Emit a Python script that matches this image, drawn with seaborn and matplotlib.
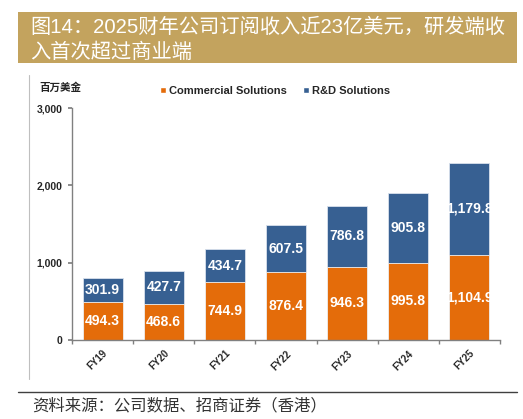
import matplotlib
matplotlib.use("Agg")
import matplotlib.pyplot as plt
import seaborn as sns
import pandas as pd
import numpy as np
from matplotlib.patches import Rectangle
from matplotlib.lines import Line2D

years = ["FY19", "FY20", "FY21", "FY22", "FY23", "FY24", "FY25"]
commercial = [494.3, 468.6, 744.9, 876.4, 946.3, 995.8, 1104.9]
rd = [301.9, 427.7, 434.7, 607.5, 786.8, 905.8, 1179.8]
series_names = ["Commercial Solutions", "R&D Solutions"]
yticks = [0, 1000, 2000, 3000]

title_lines = ["图14：2025财年公司订阅收入近23亿美元，研发端收", "入首次超过商业端"]
unit_label = "百万美金"
source_text = "资料来源：公司数据、招商证券（香港）"

C_OR = "#E46C0A"
C_BL = "#376092"
GOLD = "#C3A35E"

sns.set_theme(style="white")
plt.rcParams['font.family'] = ['Liberation Sans', 'Noto Sans CJK SC', 'DejaVu Sans']

W, H = 523, 419
fig = plt.figure(figsize=(W / 100, H / 100), dpi=100)

def fx(px):
    return px / W

def fy(py):
    return 1 - py / H

CJK = ['Noto Sans CJK SC', 'DejaVu Sans']
MIX = ['Liberation Sans', 'Noto Sans CJK SC', 'DejaVu Sans']

# Title box
fig.patches.append(Rectangle((fx(18), fy(63)), fx(517) - fx(18), fy(12) - fy(63),
                             transform=fig.transFigure, facecolor=GOLD, edgecolor='none'))
fig.text(fx(30), fy(27), title_lines[0], color='white', fontsize=14.6,
         family=MIX, va='center', ha='left')
fig.text(fx(30), fy(52), title_lines[1], color='white', fontsize=14.6,
         family=MIX, va='center', ha='left')

# left vertical decoration line
fig.lines.append(Line2D([fx(28.5), fx(28.5)], [fy(75), fy(379)], transform=fig.transFigure,
                        color='#BFBFBF', lw=0.8))
# bottom line
fig.lines.append(Line2D([fx(18), fx(517)], [fy(392), fy(392)], transform=fig.transFigure,
                        color='#404040', lw=1.0))
fig.text(fx(32), fy(406), source_text, color='#333333', fontsize=11.8,
         family=CJK, style='italic', va='center', ha='left')

ax = fig.add_axes([fx(72), fy(340), fx(500) - fx(72), fy(108) - fy(340)])

df = pd.DataFrame({"year": years, "commercial": commercial, "rd": rd})
df["total"] = df["commercial"] + df["rd"]

sns.barplot(data=df, x="year", y="total", color=C_BL, saturation=1, width=0.655,
            edgecolor='#D9E1EC', linewidth=0.6, ax=ax)
sns.barplot(data=df, x="year", y="commercial", color=C_OR, saturation=1, width=0.655,
            edgecolor='#F2F2F2', linewidth=0.6, ax=ax)

for i, (c, r) in enumerate(zip(commercial, rd)):
    ax.text(i, c / 2, f"{c:,.1f}", ha='center', va='center', color='white',
            fontsize=10, fontweight='bold')
    ax.text(i, c + r / 2, f"{r:,.1f}", ha='center', va='center', color='white',
            fontsize=10, fontweight='bold')

ax.set_ylim(0, 3000)
ax.set_xlim(-0.5, len(years) - 0.5)
ax.set_yticks(yticks)
ax.set_yticklabels([f"{v:,}" for v in yticks], fontsize=7.5, fontweight='bold')
ax.set_xticks(range(len(years)))
ax.set_xticklabels(years, fontsize=7, fontweight='bold', rotation=45, ha='right',
                   va='top', rotation_mode='anchor')
ax.set_xticks(np.arange(-0.5, len(years), 1.0), minor=True)
ax.tick_params(axis='x', which='major', length=0, pad=6)
ax.tick_params(axis='x', which='minor', length=3, color='#808080', direction='out', bottom=True)
ax.tick_params(axis='y', length=3, color='#808080', direction='out', left=True, pad=4)
ax.set_xlabel("")
ax.set_ylabel("")
for s in ['top', 'right']:
    ax.spines[s].set_visible(False)
for s in ['left', 'bottom']:
    ax.spines[s].set_color('#808080')
    ax.spines[s].set_linewidth(1.0)

fig.text(fx(39), fy(88), unit_label, fontsize=7.6, fontweight='bold', color='#222222',
         family=CJK, va='center', ha='left')

handles = [Rectangle((0, 0), 1, 1, facecolor=C_OR), Rectangle((0, 0), 1, 1, facecolor=C_BL)]
leg = fig.legend(handles, series_names, loc='center left', bbox_to_anchor=(fx(160), fy(91)),
                 ncol=2, frameon=False, handlelength=0.5, handleheight=0.5, handletextpad=0.3,
                 columnspacing=1.5, prop={'size': 8, 'weight': 'bold'}, borderaxespad=0, borderpad=0)

fig.savefig("out.png", dpi=100)
